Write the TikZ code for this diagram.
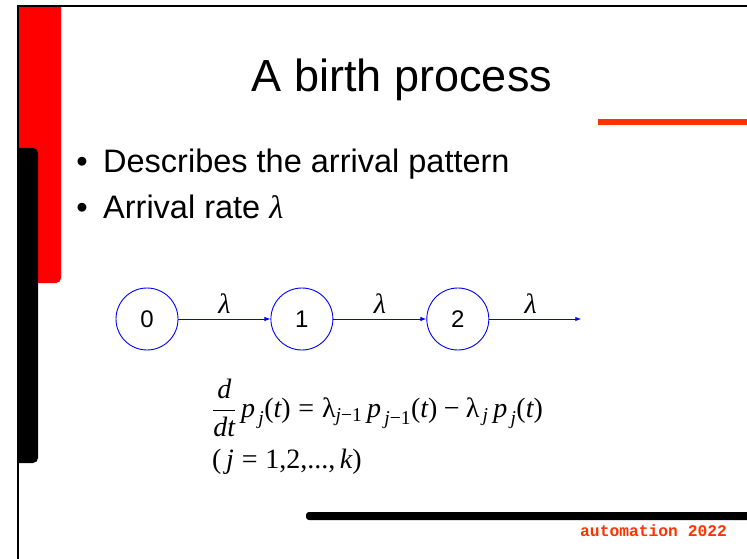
\documentclass[tikz,border=0pt]{standalone}
\usepackage{fix-cm}
\usepackage{amsmath}
\usepackage{fontspec}
\usetikzlibrary{positioning}
\usetikzlibrary{arrows.meta}
\usepackage{xcolor}
\newfontfamily\arialfont{Liberation Sans}
\newfontfamily\timesfont{Liberation Serif}
\newfontfamily\courfont{Liberation Mono}
\definecolor{slidered}{HTML}{FF3300}
\newcommand{\lam}{{\timesfont\itshape λ}}
\newcommand{\vi}[1]{\text{\timesfont\itshape #1}}
\newcommand{\vr}[1]{\text{\timesfont #1}}
\newcommand{\lamup}{\mathord{\vr{λ}}}
\newcommand{\teq}{\mathrel{\vr{=}}}
\newcommand{\tminus}{\mathbin{\vr{−}}}

\begin{document}
\begin{tikzpicture}[x=1pt, y=-1pt,
	st/.style={circle, draw=blue, line width=0.9pt, minimum size=62pt, inner sep=0pt, font=\arialfont\fontsize{24}{24}\selectfont},
	arr/.style={-{Latex[length=6pt, width=4.5pt]}, draw=blue, line width=0.9pt},
	lbl/.style={above=5pt, inner sep=0pt, font=\fontsize{28}{28}\selectfont},
	bul/.style={anchor=base, inner sep=0pt, font=\arialfont\fontsize{32.5}{32.5}\selectfont},
	itm/.style={anchor=base west, inner sep=0pt, font=\arialfont\fontsize{32.5}{32.5}\selectfont},
	eqn/.style={inner sep=0pt, font=\fontsize{28}{32}\selectfont},
	]
	\useasboundingbox (0,0) rectangle (747,559);
	
	%Bars
	\begin{scope}
		\clip (17,6) rectangle (747,559);
		\fill[red, rounded corners=5pt] (10,-10) rectangle (61,283);
		\fill[black, rounded corners=5pt] (10,148) rectangle (38,463);
	\end{scope}
	\fill[slidered] (598,119) rectangle (747,125);
	\fill[black, rounded corners=3pt] (306,512) rectangle (760,520);
	\draw[line width=2pt] (18,570) -- (18,6) -- (760,6);
	
	%Text
	\node[anchor=base, inner sep=0pt, font=\arialfont\fontsize{45}{45}\selectfont] (title) at (402,92) {A birth process};
	\node[bul] (b1) at (82,172) {•};
	\node[itm] (i1) at (103,172) {Describes the arrival pattern};
	\node[bul] (b2) at (82,218) {•};
	\node[itm] (i2) at (103,218) {Arrival rate \lam};
	
	%Nodes
	\node[st]   (n0)    at (147,319)        {0};
	\node[st]   (n1)    [right=92pt of n0]  {1};
	\node[st]   (n2)    [right=93pt of n1]  {2};
	\coordinate[right=92pt of n2] (tail);
	
	%Lines
	\draw[arr] (n0) -- node[lbl]          {\lam} (n1);
	\draw[arr] (n1) -- node[lbl]          {\lam} (n2);
	\draw[arr] (n2) -- node[lbl, pos=0.45] {\lam} (tail);
	
	%Equation
	\node[eqn, anchor=west] (eq) at (212,408)
		{$\dfrac{\vi{d}}{\vi{dt}}\,\vi{p}_{\,\vi{j}}\vr{(}\vi{t}\vr{)}\teq
		\lamup_{\vi{j}\tminus\vr{1}}\,\vi{p}_{\,\vi{j}\tminus\vr{1}}\vr{(}\vi{t}\vr{)}\tminus
		\lamup_{\,\vi{j}}\,\vi{p}_{\,\vi{j}}\vr{(}\vi{t}\vr{)}$};
	\node[eqn, anchor=base west] (rng) at (212,468)
		{$\vr{(}\,\vi{j}\teq\vr{1,2,...,}\,\vi{k}\vr{)}$};
	\node[anchor=base west, inner sep=0pt, text=slidered, font=\courfont\bfseries\fontsize{16.3}{16.3}\selectfont] (foot) at (580,536) {automation 2022};
\end{tikzpicture}
\end{document}
